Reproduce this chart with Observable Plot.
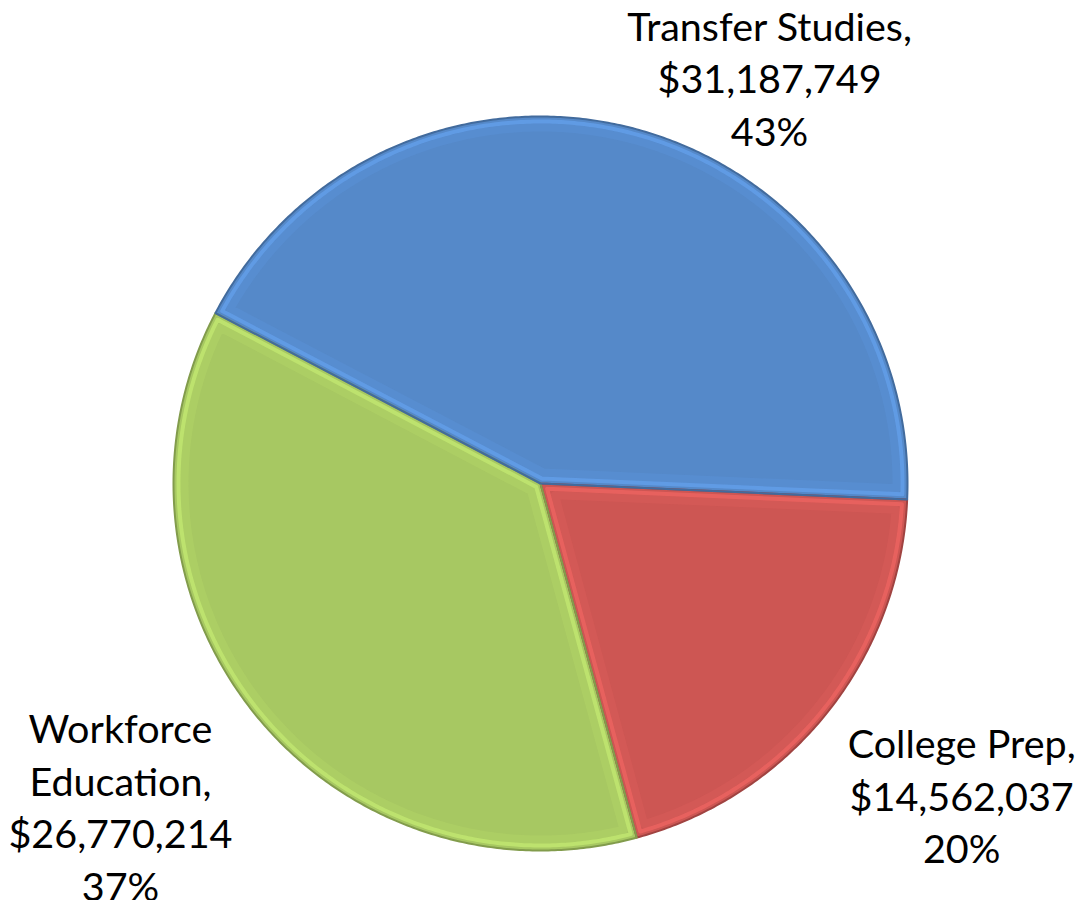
<!DOCTYPE html>
<html><head><meta charset="utf-8">
<script src="https://cdn.jsdelivr.net/npm/d3@7"></script>
<script src="https://cdn.jsdelivr.net/npm/@observablehq/plot@0.6"></script>
<style>body{margin:0;background:#fff} #chart svg{display:block}</style>
</head><body><div id="chart"></div>
<script>
// ---- data ----
const categories = ["College Prep", "Workforce Education", "Transfer Studies"];
const amounts = [14562037, 26770214, 31187749];
const labelNames = ["College Prep,", "Workforce\nEducation,", "Transfer Studies,"];
const colors = ["#CD5653", "#A7C862", "#5589C9"];

// ---- layout ----
const W = 1082, H = 900;
const cx = 540, cy = 483, R = 367;
const startDeg = 92.5;
const labelPlacement = { // angle nudge (deg) from slice middle, radius
  "College Prep": [-2.28, 523],
  "Workforce Education": [1.33, 529],
  "Transfer Studies": [14.28, 467]
};
const rad = d => d * Math.PI / 180;

const rows = categories.map((c, i) => ({name: c, amount: amounts[i], label: labelNames[i], color: colors[i]}));
const total = d3.sum(amounts);
const arcs = d3.pie().sort(null).value(d => d.amount)
  .startAngle(rad(startDeg)).endAngle(rad(startDeg) + 2 * Math.PI)(rows);

function sector(a0, a1, r, apexShift) {
  const mid = (a0 + a1) / 2;
  const ax = apexShift * Math.sin(mid), ay = apexShift * Math.cos(mid);
  const pts = [[ax, ay]];
  const n = Math.max(8, Math.ceil((a1 - a0) / rad(0.5)));
  for (let k = 0; k <= n; k++) {
    const t = a0 + (a1 - a0) * k / n;
    pts.push([r * Math.sin(t), r * Math.cos(t)]);
  }
  pts.push([ax, ay]);
  return pts;
}

const slicePts = [], bevelPts = [], bevelPts2 = [];
arcs.forEach(a => {
  sector(a.startAngle, a.endAngle, R, 0).forEach(([x, y]) => slicePts.push({x, y, name: a.data.name}));
  const d = 5, half = (a.endAngle - a.startAngle) / 2;
  sector(a.startAngle + d / R, a.endAngle - d / R, R - d, d / Math.sin(half))
    .forEach(([x, y]) => bevelPts.push({x, y, name: a.data.name}));
  const d2 = 11;
  sector(a.startAngle + d2 / R, a.endAngle - d2 / R, R - d2, d2 / Math.sin(half))
    .forEach(([x, y]) => bevelPts2.push({x, y, name: a.data.name}));
});

const fmtMoney = d3.format("$,");
const fmtPct = d3.format(".0%");
const labels = arcs.map(a => {
  const [nudge, r] = labelPlacement[a.data.name];
  const t = (a.startAngle + a.endAngle) / 2 + rad(nudge);
  return {
    x: r * Math.sin(t), y: r * Math.cos(t),
    text: `${a.data.label}\n${fmtMoney(a.data.amount)}\n${fmtPct(a.data.amount / total)}`
  };
});

const colorScale = {domain: categories, range: colors};
const lighter = colors.map(c => d3.color(c).brighter(0.6).formatHex());
const darker = colors.map(c => d3.color(c).darker(0.7).formatHex());

const chart = Plot.plot({
  width: W, height: H,
  margin: 0,
  x: {domain: [-cx, W - cx], axis: null},
  y: {domain: [-(H - cy), cy], axis: null},
  color: colorScale,
  style: {fontFamily: "Lato, 'Open Sans', sans-serif", background: "#fff"},
  marks: [
    Plot.line(slicePts, {x: "x", y: "y", z: "name", fill: "name", stroke: "none", curve: "linear"}),
    Plot.line(bevelPts2, {x: "x", y: "y", z: "name", stroke: d => d3.color(colors[categories.indexOf(d.name)]).brighter(0.25).formatHex(), strokeWidth: 8, strokeOpacity: 0.35, strokeLinejoin: "round"}),
    Plot.line(bevelPts, {x: "x", y: "y", z: "name", stroke: d => lighter[categories.indexOf(d.name)], strokeWidth: 4, strokeOpacity: 0.55, strokeLinejoin: "round"}),
    Plot.line(slicePts, {x: "x", y: "y", z: "name", stroke: d => darker[categories.indexOf(d.name)], strokeWidth: 2, strokeLinejoin: "round"}),
    Plot.text(labels, {x: "x", y: "y", text: "text", fontSize: 39.5, lineHeight: 1.34, lineAnchor: "middle", textAnchor: "middle", fill: "#000"})
  ]
});
document.getElementById("chart").appendChild(chart);
</script>
</body></html>
